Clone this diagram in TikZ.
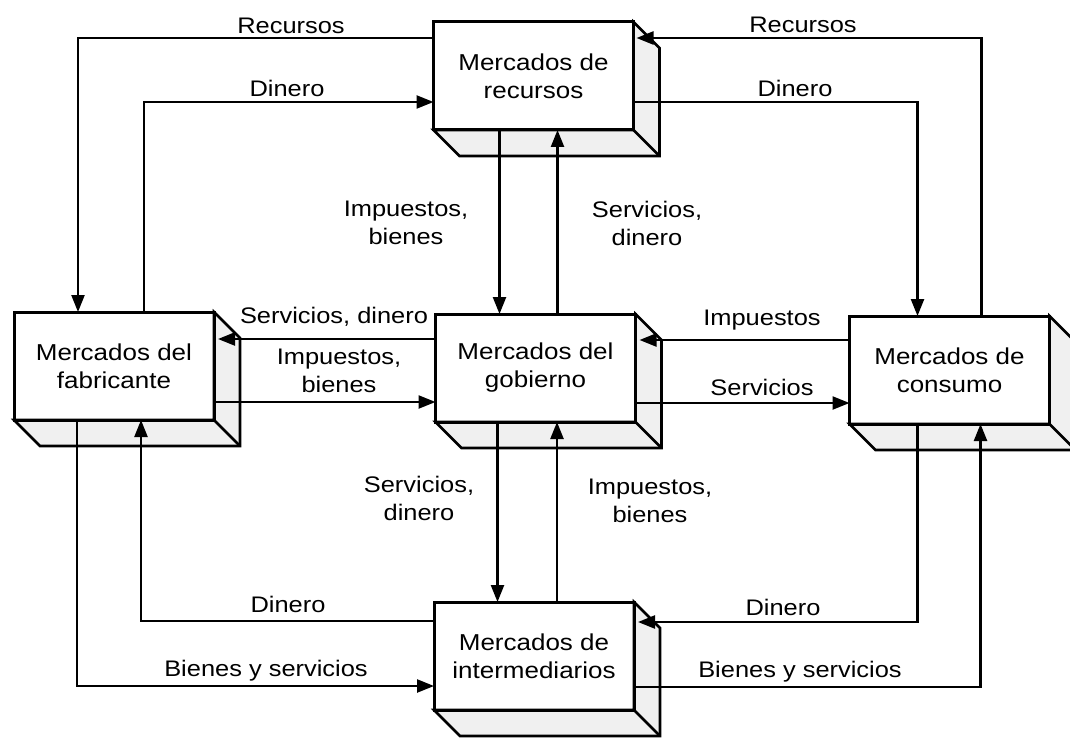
\documentclass[tikz,border=0pt]{standalone}
\usepackage{fontspec}
\setmainfont{Liberation Sans}[FakeStretch=1.13]
\usetikzlibrary{arrows.meta,calc}
\tikzset{
  mbox/.style={draw=black, line width=3pt, fill=white, minimum width=200pt, minimum height=108pt,
    inner sep=0pt, outer sep=0pt, align=center, font=\fontsize{23}{28}\selectfont},
  face/.style={draw=black, line width=2.6pt, fill=black!6, line join=miter},
  arr/.style={draw=black, line width=2.4pt, -{Triangle[length=17pt,width=13pt]}},
  lbl/.style={inner sep=0pt, align=center, font=\fontsize{22.5}{28}\selectfont}
}
\begin{document}
\begin{tikzpicture}[x=1pt,y=-1pt]
\clip (0,0) rectangle (1070,738);
\fill[white] (0,0) rectangle (1070,738);

% boxes
\node[mbox] (rec) at (533.5,76)  {Mercados de\\recursos};
\node[mbox] (fab) at (114,366)   {Mercados del\\fabricante};
\node[mbox] (gob) at (535.5,368) {Mercados del\\gobierno};
\node[mbox] (con) at (949.5,370) {Mercados de\\consumo};
\node[mbox] (int) at (534,656)   {Mercados de\\intermediarios};

% 3D faces
\foreach \n in {rec,fab,gob,con,int}{
  \draw[face] (\n.north east) -- ++(26,26) -- ($(\n.south east)+(26,26)$)
     -- ($(\n.south west)+(26,26)$) -- (\n.south west) -- (\n.south east) -- cycle;
  \draw[face] (\n.south east) -- ++(26,26);
  \draw[draw=black, line width=3pt] (\n.north west) rectangle (\n.south east);
}

% connectors
\draw[arr] ($(rec.north west)+(0,16)$) -| ($(fab.north west)+(64,0)$);
\draw[arr] ($(fab.north west)+(130,0)$) |- ($(rec.north west)+(0,80)$);
\draw[arr] ($(rec.north east)+(0,80)$) -| ($(con.north west)+(68,0)$);
\draw[arr] ($(con.north west)+(132,0)$) |- ($(rec.north east)+(3,16)$);

\coordinate (a) at ($(rec.south west)+(66,0)$);
\draw[arr] (a) -- (a |- gob.north);
\coordinate (b) at ($(gob.north west)+(122,0)$);
\draw[arr] (b) -- (b |- rec.south);

\coordinate (c) at ($(gob.north west)+(0,25)$);
\draw[arr] (c) -- ($(fab.east |- c)+(4,0)$);
\coordinate (d) at ($(gob.north west)+(0,88)$);
\draw[arr] (fab.east |- d) -- (d);

\coordinate (e) at ($(con.north west)+(0,24)$);
\draw[arr] (e) -- ($(gob.east |- e)+(4,0)$);
\coordinate (f) at ($(con.north west)+(0,87)$);
\draw[arr] (gob.east |- f) -- (f);

\coordinate (g) at ($(gob.south west)+(62,0)$);
\draw[arr] (g) -- (g |- int.north);
\coordinate (h) at ($(int.north west)+(123,0)$);
\draw[arr] (h) -- (h |- gob.south);

\draw[arr] ($(int.north west)+(0,19)$) -| ($(fab.south west)+(127,0)$);
\draw[arr] ($(fab.south west)+(63,0)$) |- ($(int.north west)+(0,84)$);
\draw[arr] ($(con.south west)+(68,0)$) |- ($(int.north east)+(4,20)$);
\draw[arr] ($(int.north east)+(0,85)$) -| ($(con.south west)+(131,0)$);

% labels
\node[lbl, anchor=base] (l1) at (291,34) {Recursos};
\node[lbl, anchor=base] (l2) at (287,97) {Dinero};
\node[lbl, anchor=base] (l3) at (803,33) {Recursos};
\node[lbl, anchor=base] (l4) at (795,97) {Dinero};
\node[lbl] (l5) at (406,223) {Impuestos,\\bienes};
\node[lbl] (l6) at (647,223) {Servicios,\\dinero};
\node[lbl, anchor=base] (l7) at (334,323) {Servicios, dinero};
\node[lbl] (l8) at (339,371) {Impuestos,\\bienes};
\node[lbl, anchor=base] (l9) at (762,325) {Impuestos};
\node[lbl, anchor=base] (l10) at (762,395) {Servicios};
\node[lbl] (l11) at (419,498) {Servicios,\\dinero};
\node[lbl] (l12) at (650,501) {Impuestos,\\bienes};
\node[lbl, anchor=base] (l13) at (288,612) {Dinero};
\node[lbl, anchor=base] (l14) at (266,676) {Bienes y servicios};
\node[lbl, anchor=base] (l15) at (783,615) {Dinero};
\node[lbl, anchor=base] (l16) at (800,677) {Bienes y servicios};
\end{tikzpicture}
\end{document}
